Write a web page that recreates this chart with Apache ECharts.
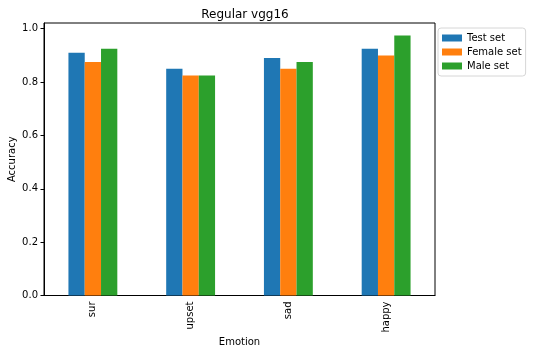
<!DOCTYPE html>
<html>
<head>
<meta charset="utf-8">
<script src="https://cdn.jsdelivr.net/npm/echarts@6/dist/echarts.min.js"></script>
<style>
  html, body { margin: 0; padding: 0; background: #fff; }
  #chart { width: 534px; height: 354px; }
</style>
</head>
<body>
<div id="chart"></div>
<script>
// data
const emotions = ['sur', 'upset', 'sad', 'happy'];
const testSet = [0.91, 0.85, 0.89, 0.925];
const femaleSet = [0.875, 0.825, 0.85, 0.9];
const maleSet = [0.925, 0.825, 0.875, 0.975];
const yTicks = [0, 0.2, 0.4, 0.6, 0.8, 1.0];

const font = 'DejaVu Sans';
const myChart = echarts.init(document.getElementById('chart'));

const makeSeries = (name, data, color) => ({
  name: name,
  type: 'bar',
  data: data,
  barGap: 0,
  barCategoryGap: '50%',
  itemStyle: { color: color },
  emphasis: { disabled: true }
});

myChart.setOption({
  animation: false,
  textStyle: { fontFamily: font },
  title: {
    text: 'Regular vgg16',
    left: 240,
    textAlign: 'center',
    top: 4,
    textStyle: { fontSize: 12, fontWeight: 'normal', color: '#000', fontFamily: font }
  },
  legend: {
    orient: 'vertical',
    left: 438,
    top: 28,
    icon: 'rect',
    itemWidth: 20,
    itemHeight: 7,
    itemGap: 4,
    padding: [5, 4, 5, 4],
    borderColor: '#d6d6d6',
    borderWidth: 1,
    borderRadius: 3,
    backgroundColor: '#fff',
    textStyle: { fontSize: 10, color: '#000', fontFamily: font },
    data: ['Test set', 'Female set', 'Male set']
  },
  grid: {
    left: 44,
    right: 99,
    top: 23,
    bottom: 58.5,
    outerBoundsMode: 'none',
    containLabel: false,
    show: true,
    borderColor: '#000',
    borderWidth: 1
  },
  xAxis: {
    type: 'category',
    data: emotions,
    name: 'Emotion',
    nameLocation: 'middle',
    nameGap: 42,
    nameMoveOverlap: false,
    nameTextStyle: { fontSize: 10, color: '#000', fontFamily: font },
    axisLine: { lineStyle: { color: '#000' } },
    axisTick: { alignWithLabel: true, length: 3.5, lineStyle: { color: '#000' } },
    axisLabel: { rotate: 90, fontSize: 10, color: '#000', margin: 6, fontFamily: font }
  },
  yAxis: {
    type: 'value',
    min: 0,
    max: 1.0214,
    interval: 0.2,
    name: 'Accuracy',
    nameLocation: 'middle',
    nameGap: 27,
    nameMoveOverlap: false,
    nameTextStyle: { fontSize: 10, color: '#000', fontFamily: font },
    splitLine: { show: false },
    axisLine: { show: true, lineStyle: { color: '#000' } },
    axisTick: { show: true, length: 3.5, lineStyle: { color: '#000' }, customValues: yTicks },
    axisLabel: {
      fontSize: 10,
      color: '#000',
      margin: 6,
      fontFamily: font,
      customValues: yTicks,
      formatter: v => v.toFixed(1)
    }
  },
  series: [
    makeSeries('Test set', testSet, '#1f77b4'),
    makeSeries('Female set', femaleSet, '#ff7f0e'),
    makeSeries('Male set', maleSet, '#2ca02c')
  ]
});
</script>
</body>
</html>
